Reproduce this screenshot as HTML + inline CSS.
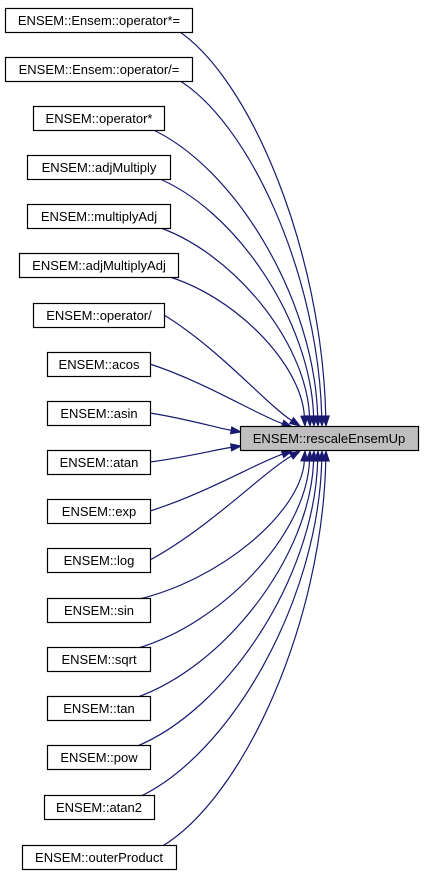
<!DOCTYPE html>
<html><head><meta charset="utf-8"><style>
html,body{margin:0;padding:0;background:#fff;width:424px;height:875px;overflow:hidden}
svg{position:absolute;left:0;top:0}
text{font-family:"Liberation Sans",Helvetica,sans-serif;font-size:13px;fill:#000}
</style></head><body>
<svg id="s" width="424" height="875" xmlns="http://www.w3.org/2000/svg">
<g id="edges"></g>
<g fill="#fff" stroke="#000" stroke-width="1.2">
<rect x="5.5" y="8.5" width="187" height="24"/>
<rect x="5.5" y="57.5" width="187" height="24"/>
<rect x="33.5" y="106.5" width="131" height="24"/>
<rect x="27.5" y="155.5" width="143" height="24"/>
<rect x="27.5" y="204.5" width="143" height="24"/>
<rect x="19.5" y="253.5" width="159" height="24"/>
<rect x="33.5" y="303.5" width="131" height="24"/>
<rect x="47.5" y="352.5" width="103" height="24"/>
<rect x="47.5" y="401.5" width="103" height="24"/>
<rect x="47.5" y="450.5" width="103" height="24"/>
<rect x="47.5" y="499.5" width="103" height="24"/>
<rect x="47.5" y="548.5" width="103" height="24"/>
<rect x="47.5" y="598.5" width="103" height="24"/>
<rect x="47.5" y="647.5" width="103" height="24"/>
<rect x="47.5" y="696.5" width="103" height="24"/>
<rect x="47.5" y="745.5" width="103" height="24"/>
<rect x="44.5" y="795.5" width="110" height="24"/>
<rect x="22.5" y="845.5" width="154" height="24"/>
<rect x="240.5" y="426.5" width="178" height="24" fill="#bfbfbf"/>
</g>
<g text-anchor="middle">
<text x="99" y="25">ENSEM::Ensem::operator*=</text>
<text x="99" y="74">ENSEM::Ensem::operator/=</text>
<text x="99" y="123">ENSEM::operator*</text>
<text x="99" y="172">ENSEM::adjMultiply</text>
<text x="99" y="221">ENSEM::multiplyAdj</text>
<text x="99" y="270">ENSEM::adjMultiplyAdj</text>
<text x="99" y="320">ENSEM::operator/</text>
<text x="99" y="369">ENSEM::acos</text>
<text x="99" y="418">ENSEM::asin</text>
<text x="99" y="467">ENSEM::atan</text>
<text x="99" y="516">ENSEM::exp</text>
<text x="99" y="565">ENSEM::log</text>
<text x="99" y="615">ENSEM::sin</text>
<text x="99" y="664">ENSEM::sqrt</text>
<text x="99" y="713">ENSEM::tan</text>
<text x="99" y="762">ENSEM::pow</text>
<text x="99" y="812">ENSEM::atan2</text>
<text x="99" y="862">ENSEM::outerProduct</text>
<text x="329" y="443">ENSEM::rescaleEnsemUp</text>
</g>
</svg>
<script>
var nodes=[[192,20],[192,69],[164,118],[170,167],[170,216],[178,265],[164,315],[150,364],[150,413],[150,462],[150,511],[150,560],[150,610],[150,659],[150,708],[150,757],[154,807],[176,857]];
var ends=[[326,426],[322,426],[318,426],[314,426],[310,426],[305,426],[300,426],[292,427],[241,432],[241,446],[292,451],[300,451],[305,451],[310,451],[314,451],[318,451],[322,451],[326,451]];
var g=document.getElementById('edges'),h='';
for(var i=0;i<nodes.length;i++){
 var sx=nodes[i][0],sy=nodes[i][1],ex=ends[i][0],ey=ends[i][1];
 var dy=ey-sy,c1x,c1y,c2x,c2y;
 if(Math.abs(dy)>120){sy+= dy>0?10:-10;sx-=15;c1x=sx+(ex-sx)*0.5;c1y=sy+dy*0.12;c2x=ex-4;c2y=sy+dy*0.55;}
 else{c1x=sx+(ex-sx)*0.4;c1y=sy+dy*0.3;c2x=sx+(ex-sx)*0.75;c2y=sy+dy*0.8;}
 var dx=ex-c2x,dd=ey-c2y,L=Math.sqrt(dx*dx+dd*dd);dx/=L;dd/=L;
 var bx=ex-dx*10,by=ey-dd*10,px=-dd*3.5,py=dx*3.5;
 h+='<path d="M'+sx+','+sy+' C'+c1x+','+c1y+' '+c2x+','+c2y+' '+bx+','+by+'" fill="none" stroke="#191970" stroke-width="1.2"/>';
 h+='<polygon points="'+ex+','+ey+' '+(bx+px)+','+(by+py)+' '+(bx-px)+','+(by-py)+'" fill="#191970" stroke="#191970"/>';
}
g.innerHTML=h;
</script>
</body></html>
